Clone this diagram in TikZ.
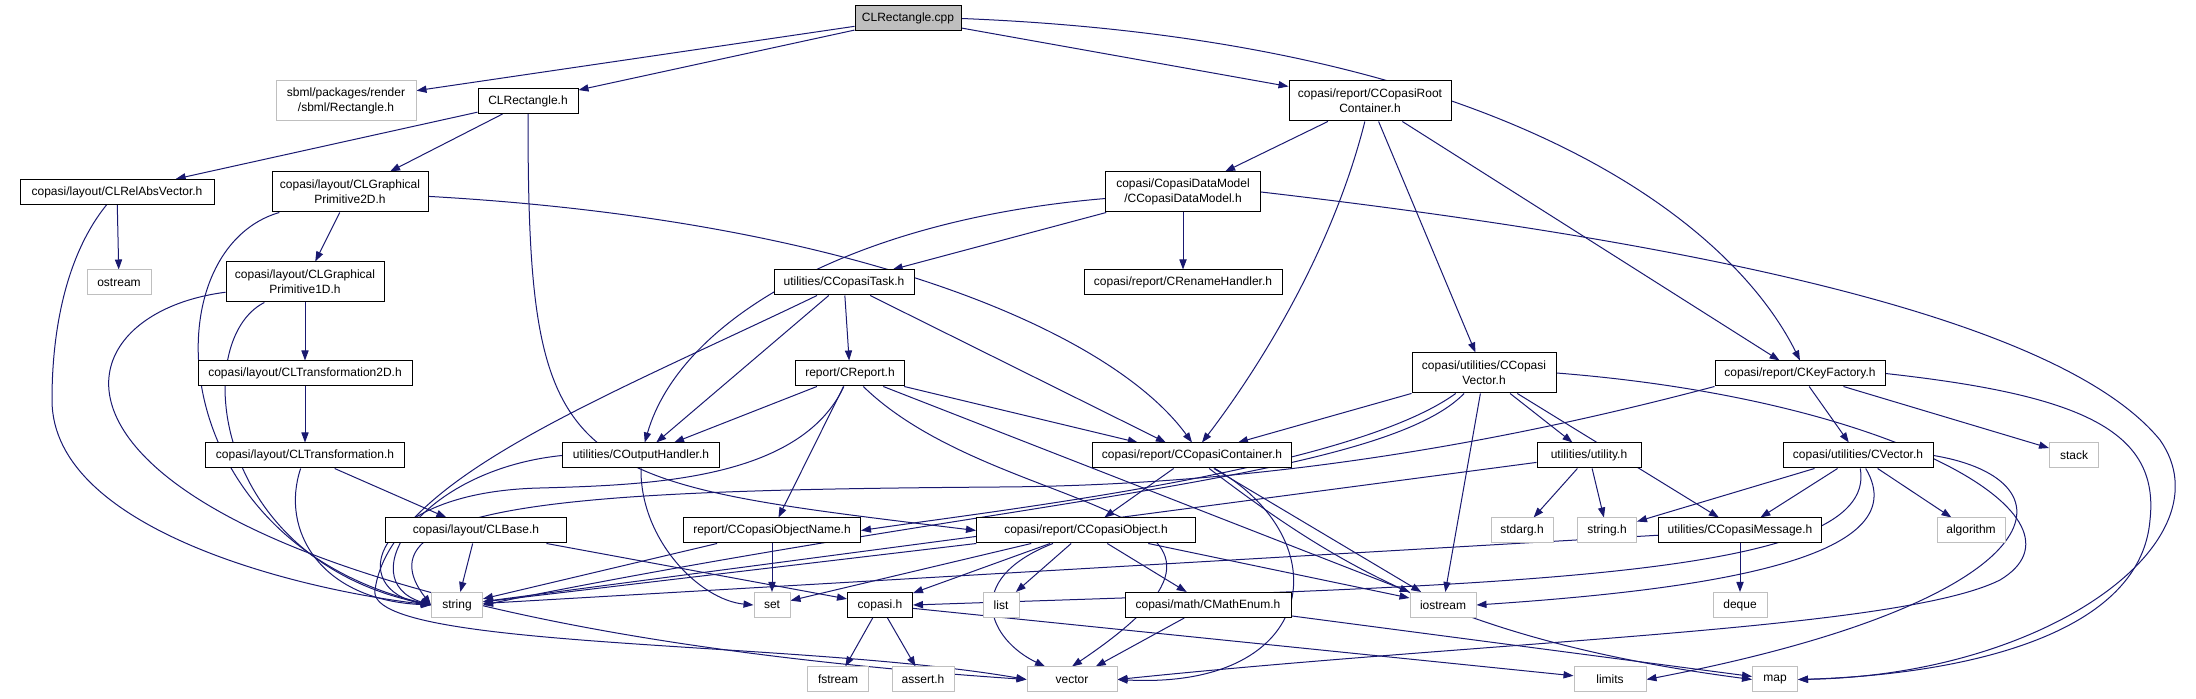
\documentclass[tikz,border=0pt]{standalone}
\usepackage{fontspec}
\setmainfont{Liberation Sans}
\usetikzlibrary{arrows.meta,backgrounds}
\definecolor{edgeblue}{HTML}{191970}
\definecolor{grey75}{HTML}{BFBFBF}
\newcommand{\docfont}{\fontsize{6}{7.5}\selectfont}
\tikzset{
  hdr/.style={draw=black, fill=white, line width=0.5pt, inner sep=0pt,
    minimum height=12.5pt, font=\docfont},
  syshdr/.style={hdr, draw=grey75},
  rootfile/.style={hdr, fill=grey75},
  twoline/.style={align=center, minimum height=20pt},
  wd/.style={minimum width=#1*0.5pt},
  dep/.style={draw=edgeblue, line width=0.5pt, -{Triangle[length=5pt,width=3.6pt]}},
}

\begin{document}
\begin{tikzpicture}[x=0.5pt,y=-0.5pt]
  \useasboundingbox (0,0) rectangle (2196,699);
  % headers, row by row
  \node[rootfile, wd=106] (cpp) at (908,18.5) {CLRectangle.cpp};
  \node[syshdr, twoline, wd=140] (rect) at (346,101) {sbml/packages/render\\/sbml/Rectangle.h};
  \node[hdr, wd=100] (clrect) at (528,101) {CLRectangle.h};
  \node[hdr, twoline, wd=162] (root) at (1370,101) {copasi/report/CCopasiRoot\\Container.h};
  \node[hdr, wd=194] (relabs) at (117,192) {copasi/layout/CLRelAbsVector.h};
  \node[hdr, twoline, wd=156] (prim2d) at (350,192) {copasi/layout/CLGraphical\\Primitive2D.h};
  \node[hdr, twoline, wd=155] (datamodel) at (1183,192) {copasi/CopasiDataModel\\/CCopasiDataModel.h};
  \node[syshdr, wd=64] (ostream) at (119,282.5) {ostream};
  \node[hdr, twoline, wd=158] (prim1d) at (305,282) {copasi/layout/CLGraphical\\Primitive1D.h};
  \node[hdr, wd=140] (task) at (844,282.5) {utilities/CCopasiTask.h};
  \node[hdr, wd=198] (rename) at (1183,282.5) {copasi/report/CRenameHandler.h};
  \node[hdr, wd=214] (trans2d) at (305,373.5) {copasi/layout/CLTransformation2D.h};
  \node[hdr, wd=109] (report) at (850,373.5) {report/CReport.h};
  \node[hdr, twoline, wd=144] (vec) at (1484,373) {copasi/utilities/CCopasi\\Vector.h};
  \node[hdr, wd=170] (keyfac) at (1800,373.5) {copasi/report/CKeyFactory.h};
  \node[hdr, wd=199] (trans) at (305,455.5) {copasi/layout/CLTransformation.h};
  \node[hdr, wd=157] (output) at (641,455.5) {utilities/COutputHandler.h};
  \node[hdr, wd=199] (container) at (1192,455.5) {copasi/report/CCopasiContainer.h};
  \node[hdr, wd=104] (utility) at (1589,455.5) {utilities/utility.h};
  \node[hdr, wd=150] (cvector) at (1858,455.5) {copasi/utilities/CVector.h};
  \node[syshdr, wd=49] (stack) at (2074,455.5) {stack};
  \node[hdr, wd=181] (clbase) at (476,530.5) {copasi/layout/CLBase.h};
  \node[hdr, wd=177] (objname) at (772,530.5) {report/CCopasiObjectName.h};
  \node[hdr, wd=219] (object) at (1086,530.5) {copasi/report/CCopasiObject.h};
  \node[syshdr, wd=62] (stdarg) at (1522,530.5) {stdarg.h};
  \node[syshdr, wd=59] (stringh) at (1607,530.5) {string.h};
  \node[hdr, wd=163] (message) at (1740,530.5) {utilities/CCopasiMessage.h};
  \node[syshdr, wd=68] (algorithm) at (1971,530.5) {algorithm};
  \node[syshdr, wd=51] (string) at (457,605) {string};
  \node[syshdr, wd=36] (set) at (772,605) {set};
  \node[hdr, wd=65] (copasih) at (880,605) {copasi.h};
  \node[syshdr, wd=36] (list) at (1001,605) {list};
  \node[hdr, wd=166] (mathenum) at (1208,605) {copasi/math/CMathEnum.h};
  \node[syshdr, wd=66] (iostream) at (1443,605) {iostream};
  \node[syshdr, wd=54] (deque) at (1740,605) {deque};
  \node[syshdr, wd=61] (fstream) at (838,679.5) {fstream};
  \node[syshdr, wd=62] (assert) at (923,679.5) {assert.h};
  \node[syshdr, wd=90] (vector) at (1072,679.5) {vector};
  \node[syshdr, wd=72] (limits) at (1610,679.5) {limits};
  \node[syshdr, wd=45] (map) at (1775,679.5) {map};
  \begin{scope}[on background layer]
  % straight includes
  \foreach \a/\b in {cpp/rect, cpp/clrect, cpp/root, clrect/relabs, clrect/prim2d,
      relabs/ostream, prim2d/prim1d, prim1d/trans2d, trans2d/trans, trans/clbase,
      clbase/string, clbase/copasih, root/datamodel, root/vec, root/keyfac,
      datamodel/rename, datamodel/task, task/output, task/report, task/container,
      report/output, report/objname, report/container, report/iostream,
      vec/container, vec/iostream, vec/utility, vec/message, container/object,
      container/iostream, object/set, object/copasih, object/list, object/mathenum,
      object/iostream, object/string, objname/set, objname/string, copasih/fstream,
      copasih/assert, copasih/limits, mathenum/vector, mathenum/map, utility/stdarg,
      utility/stringh, utility/string, message/deque, message/string, keyfac/cvector,
      keyfac/stack, cvector/stringh, cvector/message, cvector/algorithm}
    \draw[dep] (\a) -- (\b);
  % curved includes
  \draw[dep] (cpp.east) .. controls (1500,40) and (1730,220) .. (keyfac.north);
  \draw[dep] (clrect.south) .. controls (528,480) and (560,480) .. (object.west);
  \draw[dep] (relabs) .. controls (70,250) and (52,320) .. (52,400)
    .. controls (52,530) and (300,590) .. (string.west);
  \draw[dep] (prim2d) .. controls (150,250) and (160,540) .. (string.west);
  \draw[dep] (prim1d) .. controls (190,340) and (210,560) .. (string.west);
  \draw[dep] (prim1d) .. controls (10,320) and (0,610) .. (vector.west);
  \draw[dep] (trans) .. controls (280,530) and (320,600) .. (string.west);
  \draw[dep] (prim2d) .. controls (850,220) and (1110,330) .. (container.north);
  \draw[dep] (root) .. controls (1330,260) and (1250,380) .. (container);
  \draw[dep] (datamodel) .. controls (850,220) and (680,320) .. (output);
  \draw[dep] (datamodel.east) .. controls (1760,250) and (2070,330) .. (2160,440)
    .. controls (2230,540) and (2050,675) .. (map.east);
  \draw[dep] (keyfac.east) .. controls (2080,395) and (2160,430) .. (2150,520)
    .. controls (2140,640) and (1950,675) .. (map.east);
  \draw[dep] (task) .. controls (600,400) and (390,480) .. (375,590)
    .. controls (365,650) and (800,640) .. (vector.west);
  \draw[dep] (report) .. controls (800,480) and (650,485) .. (540,488)
    .. controls (370,492) and (345,590) .. (string.west);
  \draw[dep] (output.west) .. controls (420,470) and (350,580) .. (string.west);
  \draw[dep] (keyfac.south west) .. controls (1550,430) and (1300,485) .. (1000,487)
    .. controls (600,490) and (350,500) .. (string.west);
  \draw[dep] (output.south) .. controls (640,540) and (700,600) .. (set.west);
  \draw[dep] (container) .. controls (1340,540) and (1320,690) .. (vector.east);
  \draw[dep] (container) .. controls (1330,560) and (1450,640) .. (map.west);
  \draw[dep] (object) .. controls (960,580) and (990,640) .. (vector);
  \draw[dep] (report) .. controls (1000,520) and (1320,500) .. (vector.north);
  \draw[dep] (vec) .. controls (1380,480) and (1000,500) .. (string.east);
  \draw[dep] (vec) .. controls (1350,470) and (1000,510) .. (objname.east);
  \draw[dep] (vec.east) .. controls (1900,400) and (2100,520) .. (2000,580)
    .. controls (1900,630) and (1500,640) .. (vector.east);
  \draw[dep] (cvector.east) .. controls (2080,480) and (2060,600) .. (limits.east);
  \draw[dep] (cvector) .. controls (1880,580) and (1500,585) .. (copasih.east);
  \draw[dep] (cvector) .. controls (1920,560) and (1700,590) .. (iostream.east);
  \end{scope}
\end{tikzpicture}
\end{document}
